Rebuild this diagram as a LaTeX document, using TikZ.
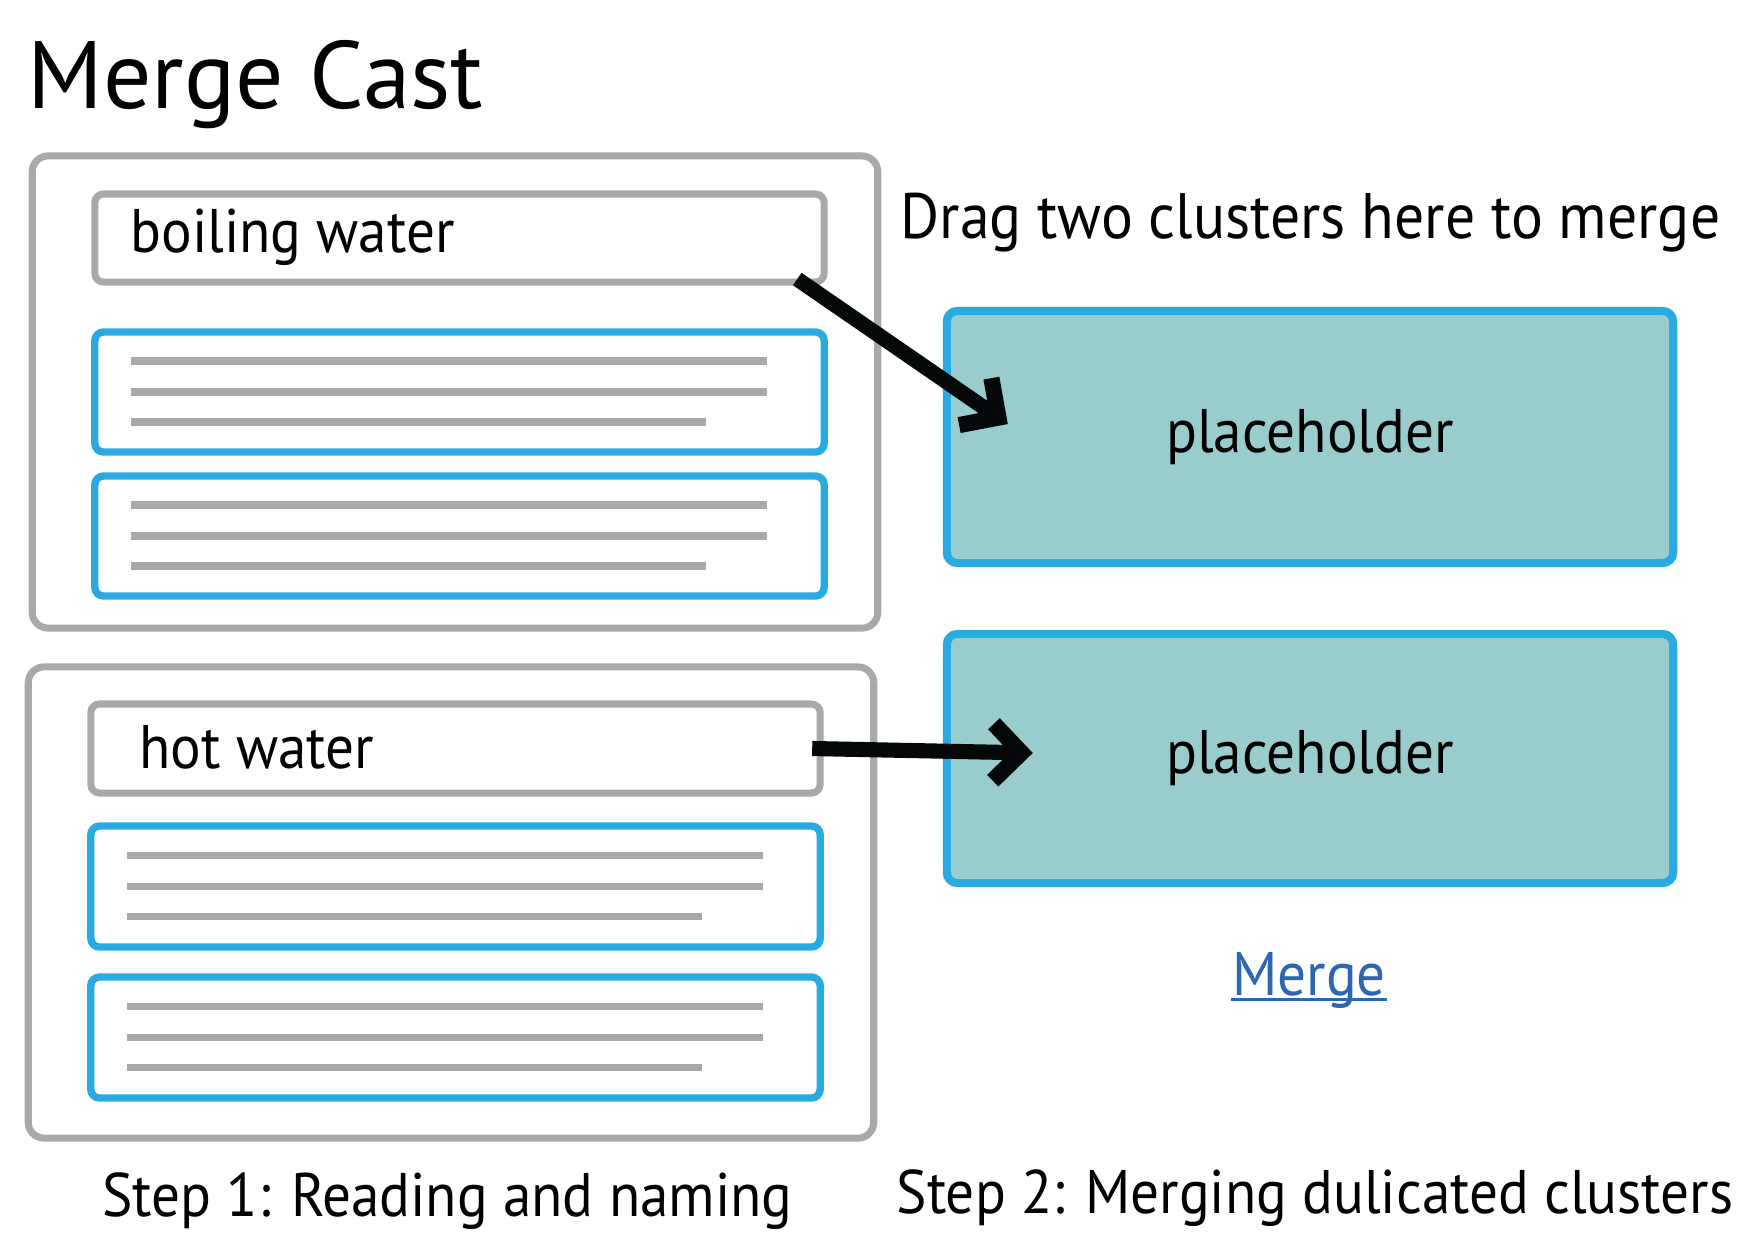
\documentclass[tikz,border=0pt]{standalone}
\usepackage{fontspec}
\setmainfont{PT Sans}
\newfontfamily\labelfont[FakeStretch=0.93]{PT Sans}
\usetikzlibrary{arrows.meta}

\definecolor{boxgray}{HTML}{A7A9AC}
\definecolor{clusterblue}{HTML}{29ABE2}
\definecolor{dropfill}{HTML}{98CCCD}
\definecolor{linkblue}{HTML}{2E67B1}
\definecolor{arrowblack}{HTML}{050808}

\newcommand{\titlesize}{\fontsize{27.2pt}{30pt}\selectfont}
\newcommand{\labelsize}{\labelfont\fontsize{17.5pt}{20pt}\selectfont}

\tikzset{
  clusterbox/.style={draw=boxgray, line width=2pt, rounded corners=4.5pt,
    outer sep=0pt, minimum width=8.45cm, minimum height=4.72cm},
  namebox/.style={draw=boxgray, line width=2pt, rounded corners=2.5pt,
    outer sep=0pt, minimum width=7.29cm, minimum height=0.88cm},
  itembox/.style={draw=clusterblue, line width=2.1pt, rounded corners=2.5pt,
    outer sep=0pt, minimum width=7.29cm, minimum height=1.2cm},
  dropbox/.style={draw=clusterblue, fill=dropfill, line width=2.3pt,
    rounded corners=3pt, outer sep=0pt, minimum width=7.26cm,
    minimum height=2.5cm, font=\labelsize},
  txtline/.style={draw=boxgray, line width=2.1pt},
  dragarrow/.style={draw=arrowblack, line width=4.3pt,
    -{Straight Barb[sharp, length=8pt, width=16.2pt, line width=4.6pt]}},
  lbl/.style={inner sep=0pt, font=\labelsize}
}

\begin{document}
\begin{tikzpicture}[x=0.01cm, y=-0.01cm]
  \useasboundingbox (0,0) rectangle (1747,1235);

  % Title
  \node[inner sep=0pt, anchor=base west, font=\titlesize] (title) at (27,108) {Merge Cast};

  % Step 1: first cluster
  \node[clusterbox] (outer1) at (455,392) {};
  \node[namebox] (boil) at (459.5,238) {};
  \node[lbl, anchor=base west] (boiltxt) at ([shift={(35,14)}]boil.west) {boiling water};
  \node[itembox] (blue1) at (459.5,392) {};
  \node[itembox] (blue2) at (459.5,536) {};

  % Step 1: second cluster
  \node[clusterbox, minimum height=4.71cm] (outer2) at (451,902.5) {};
  \node[namebox, minimum height=0.89cm] (hot) at (455.5,748.5) {};
  \node[lbl, anchor=base west] (hottxt) at ([shift={(48,19.5)}]hot.west) {hot water};
  \node[itembox, minimum height=1.21cm] (blue3) at (455.5,886.5) {};
  \node[itembox, minimum height=1.21cm] (blue4) at (455.5,1037.5) {};

  % Text lines in the items
  \foreach \b in {blue1,blue2,blue3,blue4}{
    \draw[txtline] ([shift={(-329,-31)}]\b.center) -- ++(636,0);
    \draw[txtline] ([shift={(-329,0)}]\b.center) -- ++(636,0);
    \draw[txtline] ([shift={(-329,30)}]\b.center) -- ++(575,0);
  }

  % Step 2: drop targets
  \node[lbl, anchor=base west, font=\labelfont\fontsize{18.25pt}{21pt}\selectfont] (drag) at (900,238) {Drag two clusters here to merge};
  \node[dropbox, minimum height=2.52cm] (ph1) at (1310,437) {placeholder};
  \node[dropbox, minimum height=2.49cm] (ph2) at (1310,758.5) {placeholder};

  % Merge link
  \node[lbl, anchor=base, text=linkblue] (mrg) at (1309,995) {Merge};
  \draw[linkblue, line width=0.8pt] ([shift={(0,4.5)}]mrg.base west) -- ([shift={(0,4.5)}]mrg.base east);

  % Arrows
  \coordinate (tip1) at ([shift={(61,-13)}]ph1.west);
  \coordinate (tip2) at ([shift={(86,-5.5)}]ph2.west);
  \draw[dragarrow] ([shift={(-27,-3)}]boil.south east) -- (tip1);
  \draw[dragarrow] ([shift={(-8,0)}]hot.east) -- (tip2);

  % Captions
  \node[lbl, anchor=base] (step1) at (447.5,1216) {Step 1: Reading and naming};
  \node[lbl, anchor=base] (step2) at (1315,1213) {Step 2: Merging dulicated clusters};
\end{tikzpicture}
\end{document}
